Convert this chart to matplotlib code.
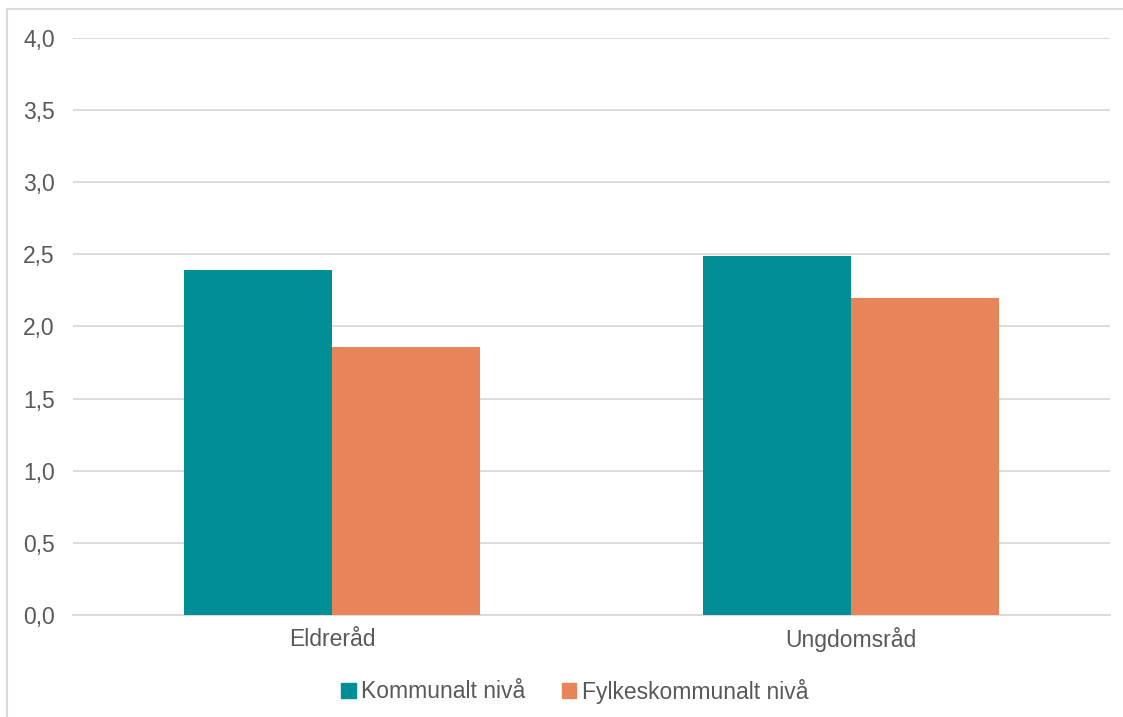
import numpy as np
import matplotlib
matplotlib.use("Agg")
import matplotlib.pyplot as plt
import matplotlib.patches as mpatches
from matplotlib.lines import Line2D
from matplotlib.ticker import FuncFormatter

categories = ["Eldreråd", "Ungdomsråd"]
series_names = ["Kommunalt nivå", "Fylkeskommunalt nivå"]
kommunalt = [2.39, 2.49]
fylkeskommunalt = [1.86, 2.20]
yticks = [0.0, 0.5, 1.0, 1.5, 2.0, 2.5, 3.0, 3.5, 4.0]

TEAL = "#008F96"
ORANGE = "#E8845A"
TEXT = "#595959"
GRID = "#D9D9D9"
FS = 16.5

plt.rcParams['font.family'] = ['Liberation Sans', 'DejaVu Sans']

fig = plt.figure(figsize=(11.23, 7.17), dpi=100)
ax = fig.add_axes([73 / 1123, 1 - 615 / 717, (1110 - 73) / 1123, (615 - 38) / 717])

x = np.arange(len(categories))
w = 0.285
ax.bar(x - w / 2, kommunalt, w, color=TEAL, zorder=3)
ax.bar(x + w / 2, fylkeskommunalt, w, color=ORANGE, zorder=3)

ax.set_xlim(-0.5, len(categories) - 0.5)
ax.set_ylim(0, 4.0)
ax.set_yticks(yticks)
ax.yaxis.set_major_formatter(FuncFormatter(lambda v, _: f"{v:.1f}".replace(".", ",")))
ax.set_xticks(x)
ax.set_xticklabels(categories)

ax.grid(axis='y', color=GRID, linewidth=1.3, zorder=0)
for s in ["top", "right", "left"]:
    ax.spines[s].set_visible(False)
ax.spines["bottom"].set_color(GRID)
ax.spines["bottom"].set_linewidth(1.3)
ax.tick_params(axis='both', length=0, colors=TEXT, labelsize=FS)
ax.tick_params(axis='y', pad=13)
ax.tick_params(axis='x', pad=9)

handles = [mpatches.Patch(color=TEAL, label=series_names[0]),
           mpatches.Patch(color=ORANGE, label=series_names[1])]
leg = fig.legend(handles=handles, loc="center", bbox_to_anchor=(575 / 1123, 1 - 691 / 717),
                 ncol=2, frameon=False, fontsize=FS, handlelength=0.62, handleheight=0.62,
                 handletextpad=0.25, columnspacing=1.6)
for t in leg.get_texts():
    t.set_color(TEXT)

# chart area border (top and left edges visible)
fig.add_artist(Line2D([7 / 1123, 1], [1 - 9 / 717, 1 - 9 / 717], color=GRID, linewidth=1.5,
                      transform=fig.transFigure))
fig.add_artist(Line2D([7 / 1123, 7 / 1123], [0, 1 - 9 / 717], color=GRID, linewidth=1.5,
                      transform=fig.transFigure))

fig.savefig("out.png", dpi=100)
